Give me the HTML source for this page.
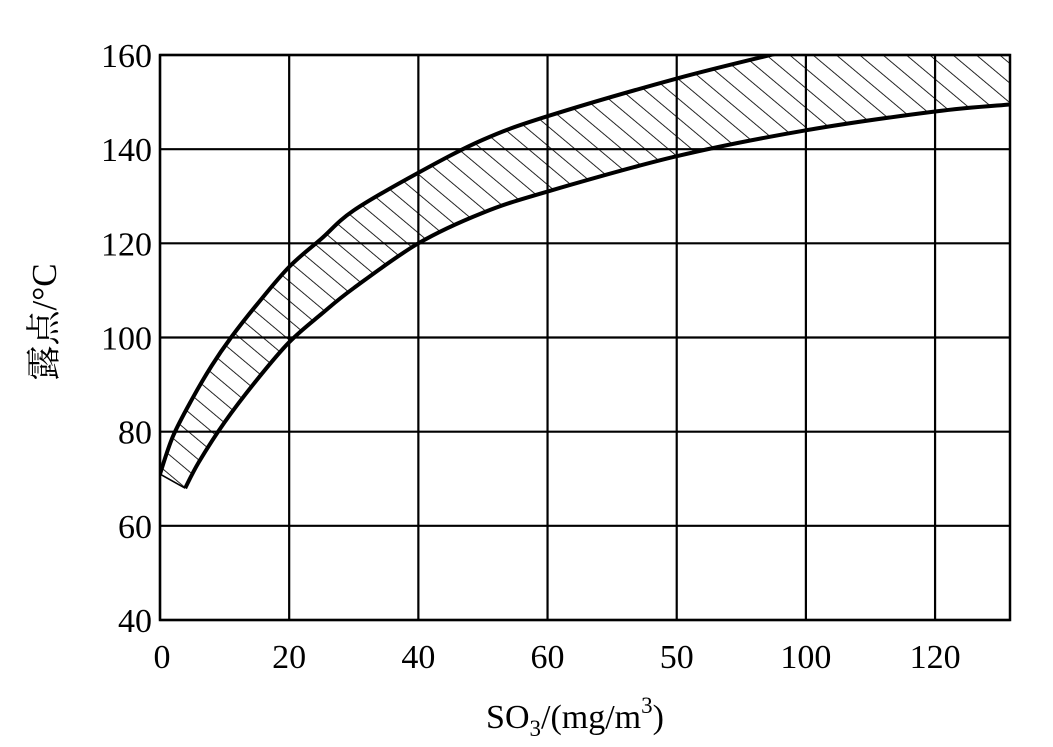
<!DOCTYPE html>
<html><head><meta charset="utf-8">
<style>
html,body{margin:0;padding:0;background:#fff;}
svg{display:block;}
text{font-family:"Liberation Serif","Noto Serif CJK SC",serif;fill:#000;}
</style></head>
<body>
<svg id="chart" width="1053" height="747" viewBox="0 0 1053 747" xmlns="http://www.w3.org/2000/svg">
<defs>
<pattern id="hatch" patternUnits="userSpaceOnUse" width="15" height="15" patternTransform="rotate(-50)">
<line x1="0" y1="0" x2="0" y2="15" stroke="#000" stroke-width="1.7"/>
</pattern>
</defs>
<g id="grid"></g>
<g id="band"></g>
<g id="ticks"></g>
<text transform="translate(56,322) rotate(-90)" text-anchor="middle" font-size="35">露点/°C</text>
<text x="575" y="728" text-anchor="middle" font-size="34">SO<tspan font-size="23" dy="8">3</tspan><tspan dy="-8">/(mg/m</tspan><tspan font-size="23" dy="-15">3</tspan><tspan dy="15">)</tspan></text>
</svg>
<script>
const xTicks=[0,20,40,60,80,100,120];
const xTickLabels=["0","20","40","60","50","100","120"];
const yTicks=[40,60,80,100,120,140,160];
const upperX=[0,2,5,8,11,15,20,25,30,40,50,60,80,96];
const upperY=[71,79,87,94,100,107,115,121,127,135,142,147,155,160.5];
const lowerX=[3.9,6,10,15,20,25,30,40,50,60,80,100,120,131.6];
const lowerY=[68,73.5,82,91,99,105,110.5,120,126.5,131,138.5,144,148,149.5];
const xMin=0,xMax=131.6,yMin=40,yMax=160;
const L=160,R=1010,T=55,B=620;
const sx=v=>L+(v-xMin)/(xMax-xMin)*(R-L);
const sy=v=>B-(v-yMin)/(yMax-yMin)*(B-T);
const NS="http://www.w3.org/2000/svg";
function mk(tag,attrs,parent){const e=document.createElementNS(NS,tag);for(const k in attrs)e.setAttribute(k,attrs[k]);parent.appendChild(e);return e;}
const grid=document.getElementById('grid');
xTicks.forEach(v=>{const l=mk('line',{x1:sx(v),x2:sx(v),y1:T,y2:B,stroke:'#000','stroke-width':2.2},grid);

});
yTicks.forEach(v=>{const l=mk('line',{x1:L,x2:R,y1:sy(v),y2:sy(v),stroke:'#000','stroke-width':2.2},grid);

});
const fr=mk('rect',{x:L,y:T,width:R-L,height:B-T,fill:'none',stroke:'#000','stroke-width':2.5},grid);


function smooth(pts){let d='M'+pts[0][0]+','+pts[0][1];for(let i=0;i<pts.length-1;i++){const p0=pts[Math.max(0,i-1)],p1=pts[i],p2=pts[i+1],p3=pts[Math.min(pts.length-1,i+2)];
const c1=[p1[0]+(p2[0]-p0[0])/6,p1[1]+(p2[1]-p0[1])/6],c2=[p2[0]-(p3[0]-p1[0])/6,p2[1]-(p3[1]-p1[1])/6];
d+=' C'+c1.join(',')+' '+c2.join(',')+' '+p2.join(',');}return d;}
const up=upperX.map((x,i)=>[sx(x),sy(upperY[i])]);
const lo=lowerX.map((x,i)=>[sx(x),sy(lowerY[i])]);
const band=document.getElementById('band');
const cp=mk('clipPath',{id:'plotclip'},band);
mk('rect',{x:L,y:T,width:R-L,height:B-T},cp);
const loRev=lo.slice().reverse();
const fillD=smooth(up)+' L'+(R+20)+','+(T-20)+' L'+(R+20)+','+loRev[0][1]+' L'+loRev[0].join(',')+' '+smooth(loRev).replace(/^M[^C]*/,'')+' Z';
const g=mk('g',{'clip-path':'url(#plotclip)'},band);
const f=mk('path',{d:fillD,fill:'url(#hatch)',stroke:'none'},g);


const u=mk('path',{d:smooth(up),fill:'none',stroke:'#000','stroke-width':4},g);


const lw=mk('path',{d:smooth(lo),fill:'none',stroke:'#000','stroke-width':4},g);


const endL=mk('line',{x1:up[0][0],y1:up[0][1],x2:lo[0][0],y2:lo[0][1],stroke:'#000','stroke-width':1.6},g);


const ticks=document.getElementById('ticks');
xTicks.forEach((v,i)=>{const t=mk('text',{x:sx(v)+(i===0?2:0),y:668,'text-anchor':'middle','font-size':34},ticks);t.textContent=xTickLabels[i];

});
yTicks.forEach(v=>{const t=mk('text',{x:152,y:sy(v)+12,'text-anchor':'end','font-size':34},ticks);t.textContent=String(v);

});
</script>
</body></html>
